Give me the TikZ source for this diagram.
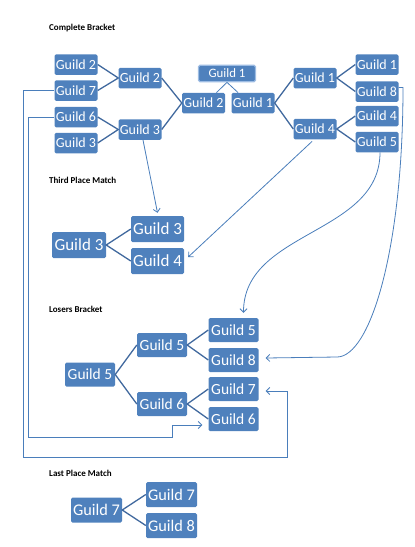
\documentclass[tikz,border=0pt]{standalone}
\usepackage{fontspec}
\setmainfont{Carlito}
\usetikzlibrary{arrows.meta}
\definecolor{boxblue}{HTML}{4F81BD}
\definecolor{linkblue}{HTML}{41699E}
\definecolor{arrblue}{HTML}{4A7EBB}
\definecolor{glowblue}{HTML}{9DBCE3}
\tikzset{
  gbox/.style={fill=boxblue, text=white, rounded corners=1.5pt, inner sep=0pt, align=center},
  smallbox/.style={gbox, minimum width=43pt, minimum height=20.5pt, font=\fontsize{14}{14}\selectfont},
  midbox/.style={gbox, minimum width=53pt, minimum height=26pt, font=\fontsize{17}{17}\selectfont},
  losebox/.style={gbox, minimum width=50pt, minimum height=24pt, font=\fontsize{15.5}{15.5}\selectfont},
  lastbox/.style={gbox, minimum width=51pt, minimum height=25pt, font=\fontsize{16.3}{16.3}\selectfont},
  champbox/.style={gbox, draw=glowblue, line width=1.2pt, minimum width=57pt, minimum height=16.5pt, font=\fontsize{12.8}{12.8}\selectfont},
  title/.style={anchor=west, inner sep=0pt, font=\fontsize{9}{9}\selectfont\bfseries},
  link/.style={draw=linkblue, line width=1.3pt},
  arr/.style={draw=arrblue, line width=0.8pt, -{Straight Barb[length=3.5pt,width=7pt]}},
}
\begin{document}
\begin{tikzpicture}[x=1pt,y=-1pt]
\useasboundingbox (0,0) rectangle (415,547);
% titles
\node[title] (tt1) at (49,28) {Complete Bracket};
\node[title] (tt2) at (49,180) {Third Place Match};
\node[title] (tt3) at (49,309) {Losers Bracket};
\node[title] (tt4) at (49,473) {Last Place Match};
% complete bracket
\node[smallbox] (a1) at (76,64.5) {Guild 2};
\node[smallbox] (a2) at (76,90.5) {Guild 7};
\node[smallbox] (a3) at (76,117) {Guild 6};
\node[smallbox] (a4) at (76,143) {Guild 3};
\node[smallbox] (b1) at (140,78) {Guild 2};
\node[smallbox] (b2) at (140,129.5) {Guild 3};
\node[smallbox] (c1) at (203.5,103) {Guild 2};
\node[smallbox] (c2) at (253,103) {Guild 1};
\node[champbox] (ch) at (227,73.5) {Guild 1};
\node[smallbox] (d1) at (315,78) {Guild 1};
\node[smallbox] (d2) at (315,129) {Guild 4};
\node[smallbox] (e1) at (377,64.5) {Guild 1};
\node[smallbox] (e2) at (377,91.5) {Guild 8};
\node[smallbox] (e3) at (377,116) {Guild 4};
\node[smallbox] (e4) at (377,142) {Guild 5};
\draw[link] (a1.east) -- (b1.west) -- (a2.east);
\draw[link] (a3.east) -- (b2.west) -- (a4.east);
\draw[link] (b1.east) -- (c1.west) -- (b2.east);
\draw[link] (d1.west) -- (c2.east) -- (d2.west);
\draw[link] (e1.west) -- (d1.east) -- (e2.west);
\draw[link] (e3.west) -- (d2.east) -- (e4.west);
\draw[draw=arrblue, line width=0.8pt] ([xshift=13pt]c1.north) -- (ch.south) -- ([xshift=-15pt]c2.north);
% third place
\node[midbox, minimum width=54pt] (t0) at (79,245) {Guild 3};
\node[midbox] (t1) at (157.5,229) {Guild 3};
\node[midbox] (t2) at (157.5,261) {Guild 4};
\draw[link] (t1.west) -- (t0.east) -- (t2.west);
% losers
\node[losebox] (l0) at (90,374.5) {Guild 5};
\node[losebox] (l1) at (162,345) {Guild 5};
\node[losebox] (l2) at (162,404) {Guild 6};
\node[losebox] (l3) at (233.5,330) {Guild 5};
\node[losebox] (l4) at (233.5,360) {Guild 8};
\node[losebox] (l5) at (233.5,389) {Guild 7};
\node[losebox] (l6) at (233.5,419) {Guild 6};
\draw[link] (l1.west) -- (l0.east) -- (l2.west);
\draw[link] (l3.west) -- (l1.east) -- (l4.west);
\draw[link] (l5.west) -- (l2.east) -- (l6.west);
% last place
\node[lastbox] (p0) at (96.5,510) {Guild 7};
\node[lastbox] (p1) at (171.5,494.5) {Guild 7};
\node[lastbox] (p2) at (171.5,525.5) {Guild 8};
\draw[link] (p1.west) -- (p0.east) -- (p2.west);
% connectors
\coordinate (k1) at (23,457);
\coordinate (k2) at (287,391);
\draw[arr] (a2.west) -| (k1) -| (k2) -- ([xshift=7pt,yshift=-2pt]l5.east);
\coordinate (m1) at (28,437);
\coordinate (m2) at (172,425);
\draw[arr] (a3.west) -| (m1) -| (m2) -- ([xshift=-6pt,yshift=-6pt]l6.west);
\draw[arr] ([xshift=3pt]b2.south) -- ([yshift=3pt]t1.north);
\draw[arr] ([xshift=-3pt,yshift=-2pt]d2.south) -- ([xshift=4pt,yshift=4pt]t2.east);
\draw[arr] ([xshift=3pt]e4.south) to[out=-90,in=90] ([xshift=10pt,yshift=5pt]l3.north);
\coordinate (n1) at (403,87.5);
\coordinate (n2) at (337,357);
\draw[arr] ([yshift=4pt]e2.east) -- (n1) .. controls (403,250) and (370,357) .. (n2) -- ([xshift=7pt,yshift=2pt]l4.east);
\end{tikzpicture}
\end{document}
